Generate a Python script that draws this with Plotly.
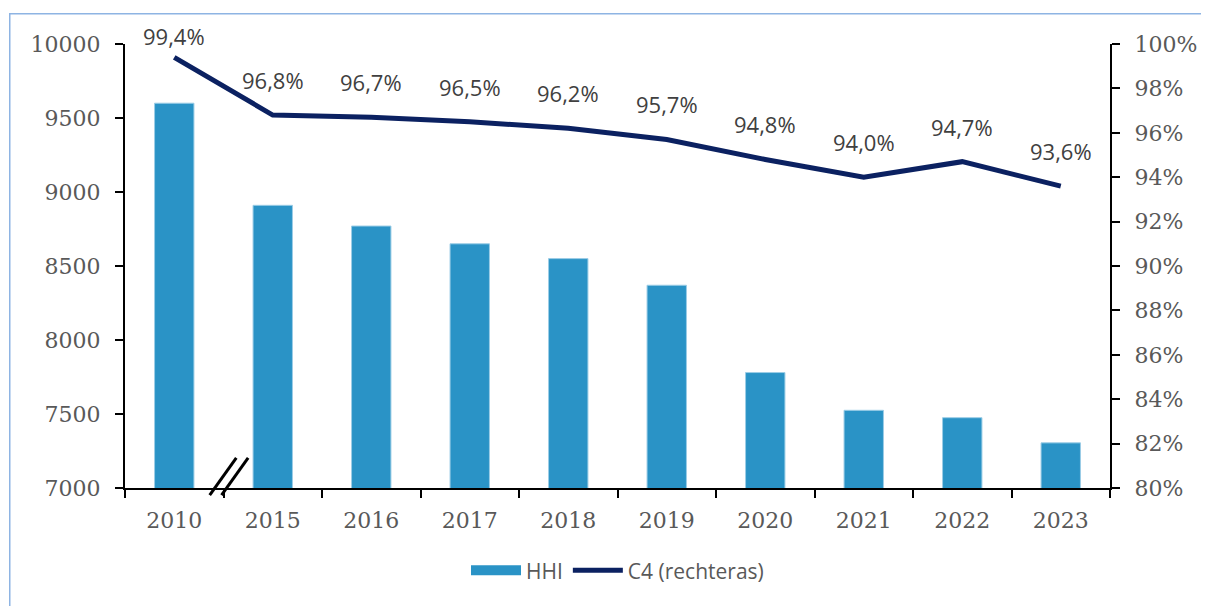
import plotly.graph_objects as go

years = ["2010", "2015", "2016", "2017", "2018", "2019", "2020", "2021", "2022", "2023"]
hhi = [9600, 8910, 8770, 8650, 8550, 8370, 7780, 7525, 7475, 7305]
c4 = [99.4, 96.8, 96.7, 96.5, 96.2, 95.7, 94.8, 94.0, 94.7, 93.6]
c4_labels = [f"{v:.1f}%".replace(".", ",") for v in c4]

BAR = "#2A93C6"
LINE = "#0B2161"
TXT = "#595959"

fig = go.Figure()
fig.add_trace(go.Bar(
    x=years, y=hhi, name="HHI", marker=dict(color=BAR, line=dict(color="#9CCDE6", width=1)),
    width=0.4, yaxis="y", showlegend=False))
# legend proxy for the bars (wide rectangle swatch)
fig.add_trace(go.Scatter(x=[years[0]], y=[None], name="HHI", mode="lines",
                         line=dict(color=BAR, width=13), yaxis="y"))
fig.add_trace(go.Scatter(
    x=years, y=[v / 100 for v in c4], name="C4 (rechteras)", mode="lines",
    line=dict(color=LINE, width=5), yaxis="y2", cliponaxis=False))

for i, (v, lab) in enumerate(zip(c4, c4_labels)):
    fig.add_annotation(x=i, xref="x", y=v / 100, yref="y2", text=lab, showarrow=False,
                       yshift=21 if i == 0 else 35,
                       font=dict(family="Open Sans", size=22, color="#404040"))

# axis break marks between 2010 and 2015
for dx in (-0.14, -0.02):
    fig.add_shape(type="line", xref="x", yref="paper", x0=0.5 + dx, x1=0.5 + dx + 0.27,
                  y0=-0.016, y1=0.068, line=dict(color="black", width=3))

# outer light-blue frame
fig.add_shape(type="rect", xref="paper", yref="paper", x0=-0.117, x1=1.2, y0=-0.4, y1=1.068,
              line=dict(color="#8EB4E3", width=1.5), fillcolor="rgba(0,0,0,0)", layer="below")

tickfont = dict(family="DejaVu Serif", size=22, color=TXT)
fig.update_layout(
    width=1209, height=606,
    margin=dict(l=117, r=107, t=36, b=126),
    plot_bgcolor="white", paper_bgcolor="white",
    showlegend=True,
    legend=dict(orientation="h", x=0.5, xanchor="center", y=-0.14, yanchor="top",
                itemwidth=50, font=dict(family="Open Sans", size=21, color=TXT)),
    xaxis=dict(type="category", categoryorder="array", categoryarray=years,
               range=[-0.5, len(years) - 0.5], showline=True, linecolor="black", linewidth=2,
               ticks="outside", tickson="boundaries", ticklen=8, tickwidth=2, tickcolor="black",
               tickfont=tickfont, tickangle=0, showgrid=False, ticklabelstandoff=12),
    yaxis=dict(range=[7000, 10000], dtick=500, showline=True, linecolor="black", linewidth=2,
               ticks="outside", ticklen=8, tickwidth=2, tickcolor="black", showgrid=False,
               zeroline=False, tickformat="d", tickfont=tickfont, ticklabelstandoff=10),
    yaxis2=dict(range=[0.8, 1.0], dtick=0.02, overlaying="y", side="right", tickformat=".0%",
                showline=True, linecolor="black", linewidth=2, ticks="outside", ticklen=8,
                tickwidth=2, tickcolor="black", showgrid=False, zeroline=False,
                tickfont=tickfont, ticklabelstandoff=10),
)

fig.write_html("out.html")
